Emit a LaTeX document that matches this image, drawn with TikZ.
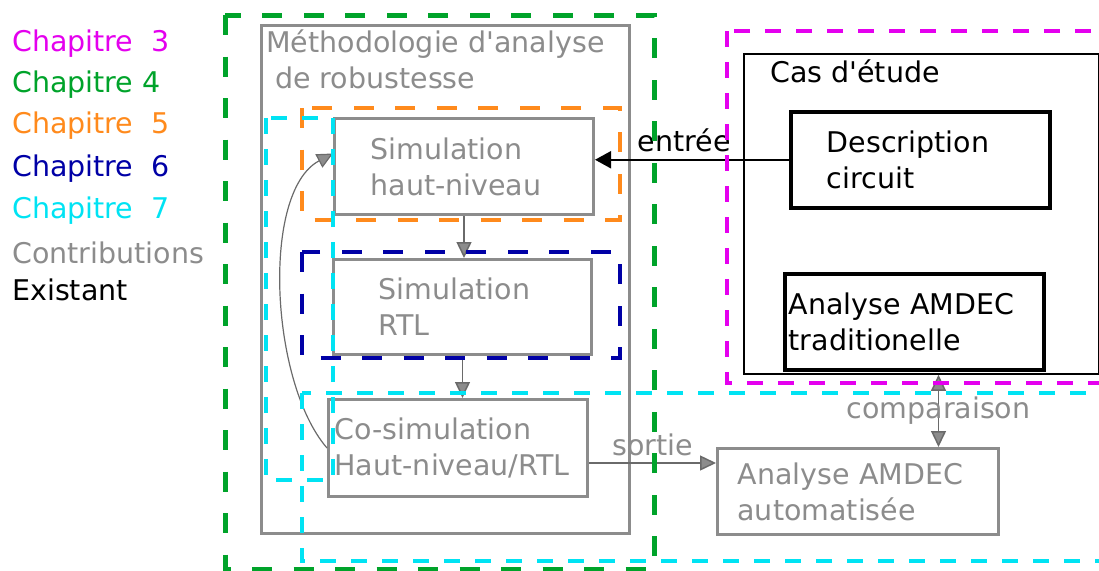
\documentclass[tikz,border=0pt]{standalone}
\usepackage{fontspec}
\setmainfont{DejaVu Sans}[Ligatures=TeXOff]
\usepackage{tikz}
\usetikzlibrary{arrows.meta,positioning}
\definecolor{cch3}{HTML}{E400EE}
\definecolor{cch4}{HTML}{00A32A}
\definecolor{cch5}{HTML}{FF8A1C}
\definecolor{cch6}{HTML}{0000A6}
\definecolor{cch7}{HTML}{00E3F3}
\definecolor{cgrey}{HTML}{8C8C8C}
\definecolor{cline}{HTML}{6A6A6A}
\tikzset{
  contrib/.style={draw=cgrey, line width=3pt, text=cgrey, anchor=north west, inner ysep=0pt, align=left},
  exist/.style={draw=black, line width=3.5pt, text=black, anchor=north west, inner ysep=0pt, align=left},
  leg/.style={anchor=base west, inner sep=0pt},
  ttl/.style={anchor=north west, inner sep=0pt, align=left},
  chapA/.style={line width=4.5pt, dash pattern=on 20pt off 21.5pt},
  chapB/.style={line width=4pt, dash pattern=on 16pt off 15pt},
  pre/.style={-{Triangle[length=16pt, width=15pt, fill=cgrey]}, line width=1.5pt, draw=cline},
  dpre/.style={{Triangle[length=16pt, width=15pt, fill=cgrey]}-{Triangle[length=16pt, width=15pt, fill=cgrey]}, line width=1.5pt, draw=cline},
  inpre/.style={-{Triangle[length=16pt, width=17pt]}, line width=2pt},
  lbl/.style={inner sep=0pt, text=cgrey},
}
\begin{document}
\begin{tikzpicture}[x=1pt, y=1pt, every node/.append style={font=\fontsize{28.5}{36}\selectfont}]
\useasboundingbox (0,0) rectangle (1099,-570);
% legend
\node[leg, text=cch3] (l3) at (12,-51) {Chapitre\ \ 3};
\node[leg, text=cch4] (l4) at (12,-92) {Chapitre 4};
\node[leg, text=cch5] (l5) at (12,-133) {Chapitre\ \ 5};
\node[leg, text=cch6] (l6) at (12,-176) {Chapitre\ \ 6};
\node[leg, text=cch7] (l7) at (12,-218) {Chapitre\ \ 7};
\node[leg, text=cgrey] (lcontrib) at (12,-263) {Contributions};
\node[leg] (lexist) at (12,-300) {Existant};
% existant
\node[exist, line width=1.8pt, minimum width=355pt, minimum height=320pt] (cas) at (743,-53) {};
\node[leg] (castitle) at (770,-82) {Cas d'étude};
\node[exist, minimum width=259pt, minimum height=96pt, inner xsep=36pt, text width=187pt] (desc) at (789,-110) {Description\\circuit};
\node[exist, minimum width=259pt, minimum height=96pt, inner xsep=4pt, text width=251pt] (trad) at (783,-272) {Analyse~AMDEC\\traditionelle};
% contributions
\node[contrib, minimum width=368pt, minimum height=508pt] (meth) at (260,-24) {};
\node[ttl, text=cgrey] (methtitle) at (266,-30) {Méthodologie d'analyse\\\hspace*{9pt}de robustesse};
\node[contrib, minimum width=259pt, minimum height=96pt, inner xsep=36pt, text width=187pt] (simhn) at (333,-117) {Simulation\\haut-niveau};
\node[contrib, minimum width=258pt, minimum height=95pt, inner xsep=45pt, text width=168pt] (simrtl) at (332,-258) {Simulation\\RTL};
\node[contrib, minimum width=259pt, minimum height=97pt, inner xsep=6pt, text width=247pt] (cosim) at (327,-398) {Co-simulation\\Haut-niveau/RTL};
\node[contrib, minimum width=281pt, minimum height=86pt, inner xsep=20pt, text width=241pt] (autom) at (716,-447) {Analyse~AMDEC\\automatisée};
% connectors
\draw[pre] (simhn.south) -- (simhn.south |- simrtl.north);
\draw[pre] (simrtl.south) -- (simrtl.south |- cosim.north);
\draw[pre, line width=1.2pt] (cosim.west) .. controls +(-57,66) and +(-72,-38) .. ([yshift=13pt]simhn.west);
\coordinate (sortA) at ([yshift=-15pt]cosim.east);
\draw[pre] (sortA) -- (sortA -| autom.west) node[midway, above=6pt, lbl] {sortie};
\coordinate (cmpA) at ([xshift=80.5pt]autom.north);
\draw[dpre] (cmpA |- cas.south) -- (cmpA) node[midway, lbl] {comparaison};
\draw[inpre] (desc.west) -- (desc.west -| simhn.east) node[pos=0.54, above=7pt, inner sep=0pt] {entrée};
% chapitres
\draw[chapA, draw=cch4, line width=5pt] (225,-15) rectangle (654,-569);
\draw[chapA, draw=cch5] (302,-108) rectangle (620,-220);
\draw[chapA, draw=cch6] (302,-252) rectangle (620,-358);
\draw[chapB, draw=cch7] (266,-118) rectangle (333,-480);
\draw[chapB, draw=cch7] (302,-393) rectangle (1115,-561);
\draw[chapB, draw=cch3] (727,-31) rectangle (1115,-383);
\end{tikzpicture}
\end{document}
